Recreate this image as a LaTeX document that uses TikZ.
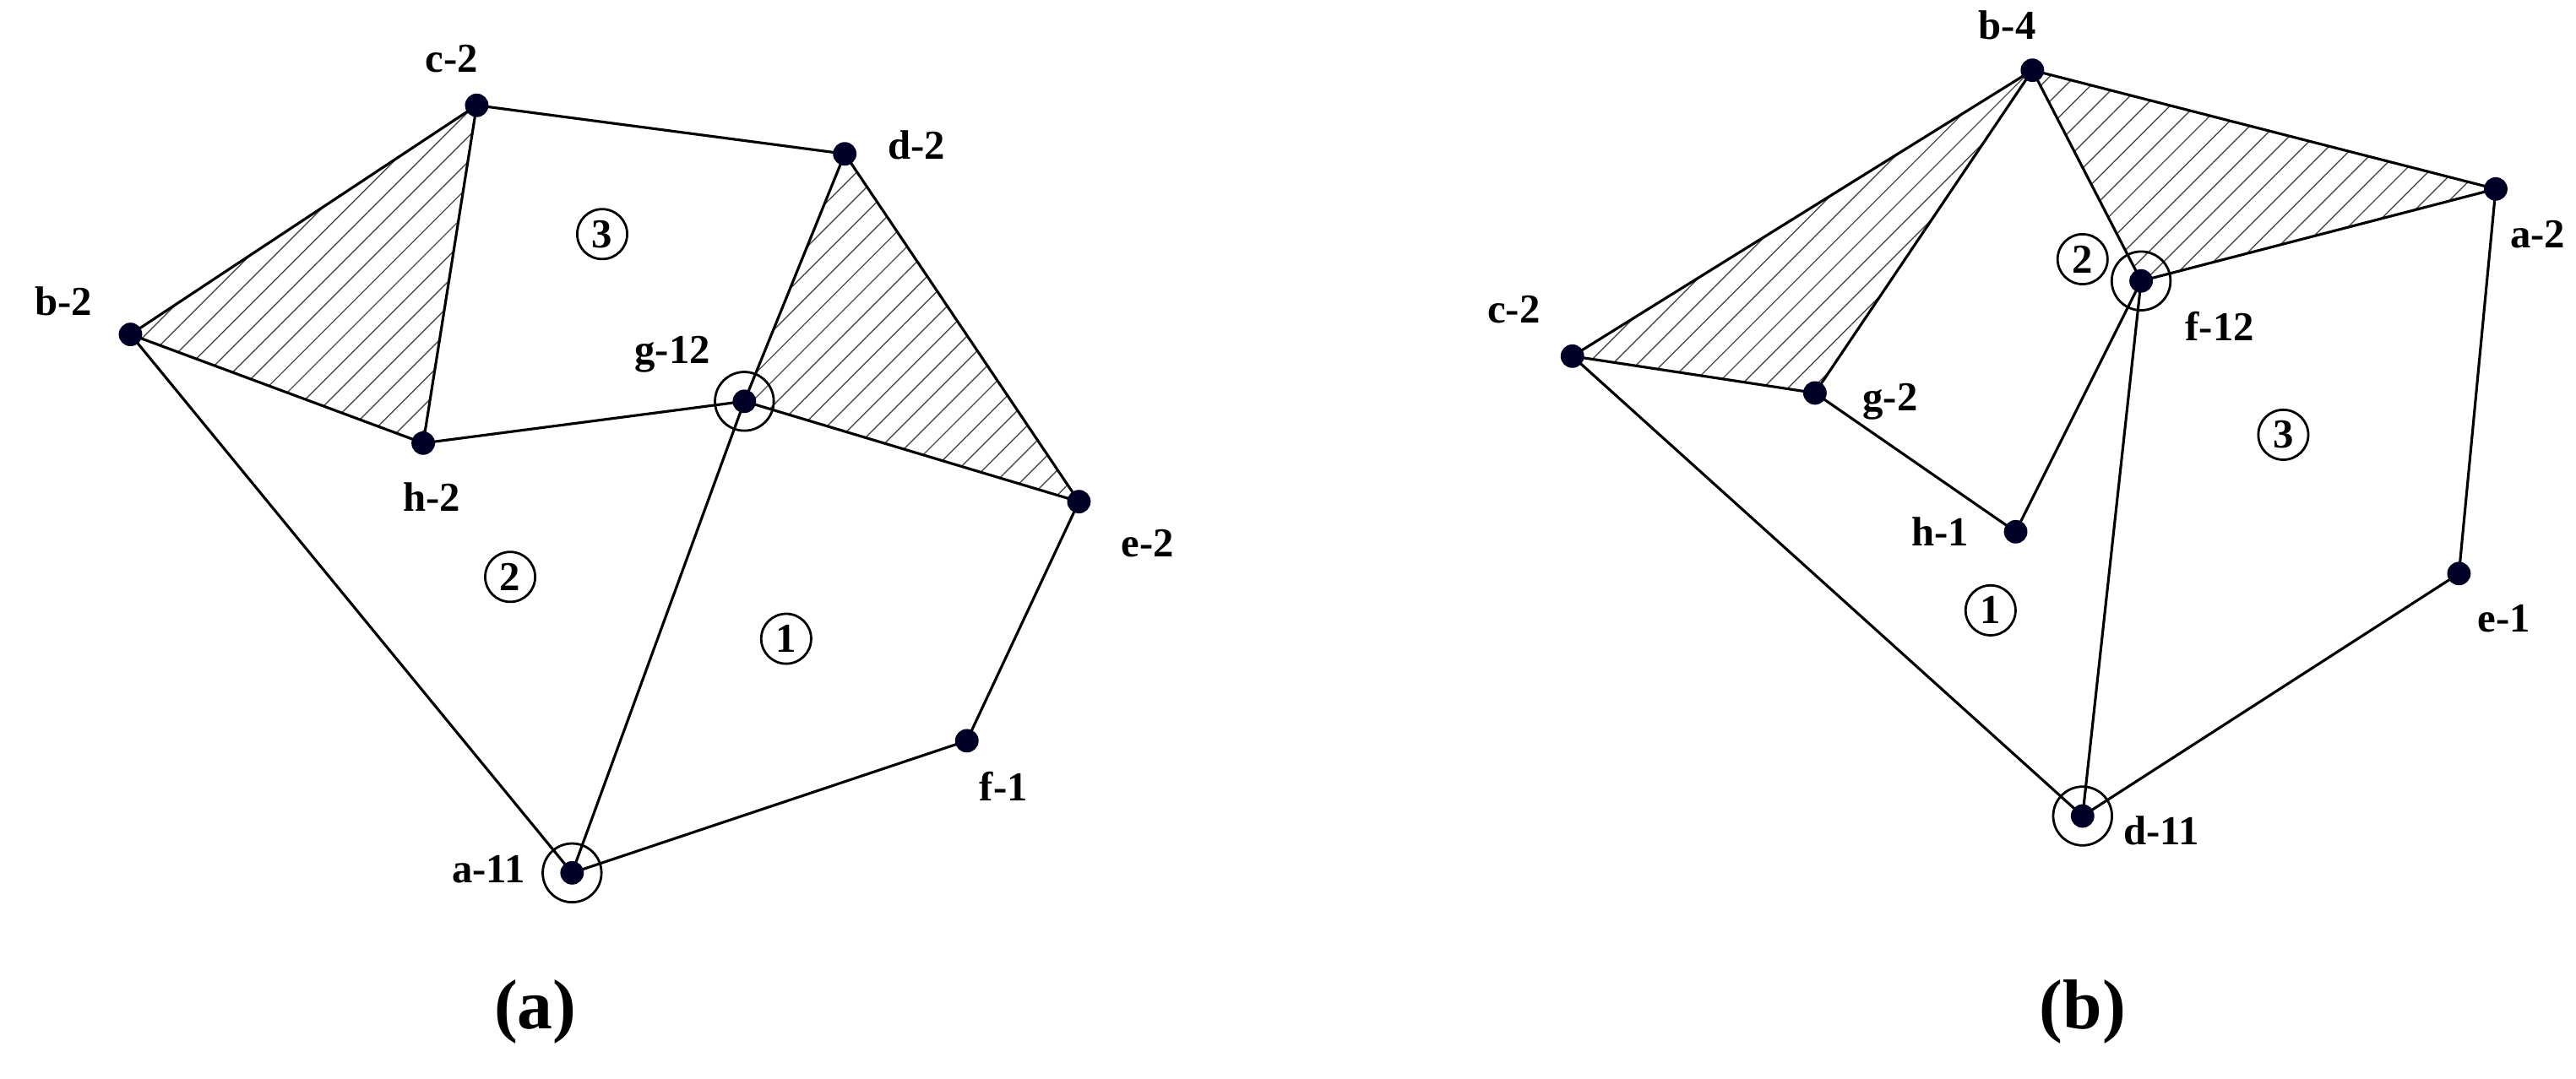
\documentclass[tikz,border=0pt]{standalone}
\usepackage{fontspec}
\setmainfont{Liberation Serif}
\usetikzlibrary{patterns.meta}
\begin{document}
\begin{tikzpicture}[x=0.02cm,y=-0.02cm,
  pt/.style={circle,fill=black!85!blue,inner sep=0pt,minimum size=8pt},
  ring/.style={circle,draw,line width=0.8pt,minimum size=20pt,inner sep=0pt},
  lab/.style={font=\bfseries\fontsize{14}{16}\selectfont},
  num/.style={circle,draw,line width=0.8pt,minimum size=17pt,inner sep=0pt,font=\bfseries\fontsize{14}{16}\selectfont},
  edge/.style={line width=0.9pt},
  hatch/.style={pattern={Lines[angle=45,distance=6pt,line width=0.4pt]},pattern color=black!70},
  captxt/.style={font=\bfseries\fontsize{24}{28}\selectfont}]
\useasboundingbox (0,0) rectangle (1540,645);
% (a)
\coordinate (c) at (285,63); \coordinate (d) at (505,92); \coordinate (b) at (78,200);
\coordinate (g) at (445,240); \coordinate (h) at (253,265); \coordinate (e) at (645,300);
\coordinate (f) at (578,443); \coordinate (a) at (342,522);
\fill[hatch] (b)--(c)--(h)--cycle; \fill[hatch] (d)--(g)--(e)--cycle;
\draw[edge] (c)--(d) (c)--(b) (c)--(h) (b)--(h) (b)--(a) (h)--(g) (d)--(g) (d)--(e) (g)--(e) (g)--(a) (e)--(f) (f)--(a);
\foreach \p in {a,b,c,d,e,f,g,h} \node[pt] (n\p) at (\p) {};
\node[ring] (rg) at (g) {}; \node[ring] (ra) at (a) {};
\node[lab] (lc) at (270,35) {c-2}; \node[lab] (ld) at (548,87) {d-2};
\node[lab] (lb) at (38,180) {b-2}; \node[lab] (lg) at (402,212) {g-12};
\node[lab] (lh) at (258,297) {h-2}; \node[lab] (le) at (686,325) {e-2};
\node[lab] (lf) at (600,470) {f-1}; \node[lab] (la) at (292,520) {a-11};
\node[num] (n3) at (360,140) {3}; \node[num] (n2) at (305,345) {2}; \node[num] (n1) at (470,382) {1};
\node[captxt] (capa) at (320,605) {(a)};
% (b)
\coordinate (B) at (1215,42); \coordinate (A) at (1492,113); \coordinate (C) at (940,213);
\coordinate (F) at (1280,168); \coordinate (G) at (1085,235); \coordinate (H) at (1205,318);
\coordinate (E) at (1470,343); \coordinate (D) at (1245,488);
\fill[hatch] (B)--(C)--(G)--cycle; \fill[hatch] (B)--(F)--(A)--cycle;
\draw[edge] (B)--(A) (B)--(C) (B)--(G) (B)--(F) (C)--(G) (C)--(D) (G)--(H) (H)--(F) (F)--(A) (F)--(D) (A)--(E) (E)--(D);
\foreach \p in {A,B,C,D,E,F,G,H} \node[pt] (m\p) at (\p) {};
\node[ring] (rF) at (F) {}; \node[ring] (rD) at (D) {};
\node[lab] (lB) at (1200,15) {b-4}; \node[lab] (lA) at (1517,140) {a-2};
\node[lab] (lC) at (905,185) {c-2}; \node[lab] (lF) at (1327,195) {f-12};
\node[lab] (lG) at (1130,240) {g-2}; \node[lab] (lH) at (1160,318) {h-1};
\node[lab] (lE) at (1497,370) {e-1}; \node[lab] (lD) at (1292,497) {d-11};
\node[num] (m2) at (1245,155) {2}; \node[num] (m3) at (1365,260) {3}; \node[num] (m1) at (1190,365) {1};
\node[captxt] (capb) at (1245,605) {(b)};
\end{tikzpicture}
\end{document}
